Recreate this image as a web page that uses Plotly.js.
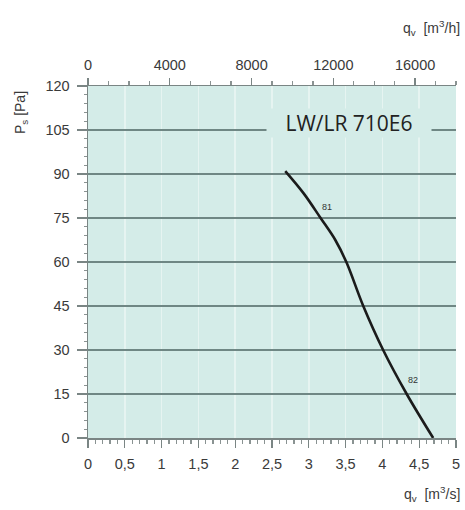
<!DOCTYPE html>
<html>
<head>
<meta charset="utf-8">
<script src="https://cdn.plot.ly/plotly-3.0.1.min.js"></script>
<style>html,body{margin:0;padding:0;background:#fff;}#chart{width:465px;height:510px;}</style>
</head>
<body>
<div id="chart"></div>
<script>
// Fan curve LW/LR 710E6 (flow m3/s vs static pressure Pa)
const flowM3s = [2.68, 2.93, 3.16, 3.36, 3.51, 3.74, 4.01, 4.33, 4.69];
const pressurePa = [91, 83.4, 75, 67.5, 60, 45, 30, 15, 0];
const pointLabels = ['81', '82'];
const pointLabelX = [3.25, 4.42];
const pointLabelY = [78.8, 19.8];
const bottomTicks = [0, 0.5, 1, 1.5, 2, 2.5, 3, 3.5, 4, 4.5, 5];
const bottomTickText = ['0', '0,5', '1', '1,5', '2', '2,5', '3', '3,5', '4', '4,5', '5'];
const topTicks = [0, 4000, 8000, 12000, 16000];
const topTickText = ['0', '4000', '8000', '12000', '16000'];
const leftTicks = [0, 15, 30, 45, 60, 75, 90, 105, 120];
const modelName = 'LW/LR 710E6';

const tickFont = {family: 'Liberation Sans, Arial, sans-serif', size: 14.5, color: '#3a3a3a'};
const titleFont = {family: 'Liberation Sans, Arial, sans-serif', size: 14, color: '#3a3a3a'};
const plotBg = '#d4ece8';

const traces = [
  {x: flowM3s, y: pressurePa, type: 'scatter', mode: 'lines',
   line: {color: '#1b1b1b', width: 2.6, shape: 'spline', smoothing: 1},
   xaxis: 'x', yaxis: 'y', hoverinfo: 'skip', showlegend: false},
  {x: [0, 18000], y: [null, null], type: 'scatter', mode: 'lines',
   xaxis: 'x2', yaxis: 'y', showlegend: false, hoverinfo: 'skip'}
];

const annotations = pointLabels.map((t, i) => ({
  x: pointLabelX[i], y: pointLabelY[i], xref: 'x', yref: 'y', text: t, showarrow: false,
  font: {family: 'Liberation Sans, Arial, sans-serif', size: 9, color: '#333'}
}));
annotations.push({
  x: 3.54, y: 107.4, xref: 'x', yref: 'y', text: modelName, showarrow: false,
  font: {family: 'Open Sans, sans-serif', size: 21, color: '#222'},
  bgcolor: plotBg, width: 162, height: 26
});
annotations.push({
  xref: 'paper', yref: 'paper', x: 1.015, y: 1.0, xanchor: 'right', yanchor: 'bottom', yshift: 46,
  text: 'q<sub>v</sub>  [m<sup>3</sup>/h]', showarrow: false, font: titleFont
});
annotations.push({
  xref: 'paper', yref: 'paper', x: 1.015, y: 0, xanchor: 'right', yanchor: 'top', yshift: -44,
  text: 'q<sub>v</sub>  [m<sup>3</sup>/s]', showarrow: false, font: titleFont
});
annotations.push({
  xref: 'paper', yref: 'paper', x: 0, y: 1, xanchor: 'center', yanchor: 'middle', xshift: -67, yshift: -27,
  text: 'P<sub>s</sub> [Pa]', showarrow: false, textangle: -90, font: titleFont
});

const layout = {
  width: 465, height: 510,
  margin: {l: 88, r: 9, t: 86, b: 72},
  paper_bgcolor: '#ffffff', plot_bgcolor: plotBg,
  showlegend: false,
  xaxis: {
    range: [0, 5], tickvals: bottomTicks, ticktext: bottomTickText,
    showgrid: true, gridcolor: '#e6f4f1', gridwidth: 1.5, zeroline: false,
    showline: true, linecolor: '#7a8584', linewidth: 1.5,
    ticks: 'outside', ticklen: 8, tickcolor: '#7a8584', tickwidth: 1.3,
    minor: {dtick: 0.1, ticks: 'outside', ticklen: 4, tickcolor: '#8a9392', showgrid: false},
    tickfont: tickFont, ticklabelstandoff: 4, fixedrange: true
  },
  xaxis2: {
    overlaying: 'x', side: 'top', range: [0, 18000], tickvals: topTicks, ticktext: topTickText,
    showgrid: false, zeroline: false, showline: true, linecolor: '#7a8584', linewidth: 1.5,
    ticks: 'outside', ticklen: 7, tickcolor: '#7a8584', tickwidth: 1.3,
    minor: {dtick: 1000, ticks: 'outside', ticklen: 4, tickcolor: '#8a9392', showgrid: false},
    tickfont: tickFont, ticklabelstandoff: 2, fixedrange: true
  },
  yaxis: {
    range: [0, 120], tickvals: leftTicks,
    showgrid: true, gridcolor: '#6f8784', gridwidth: 2, zeroline: false,
    showline: true, linecolor: '#7a8584', linewidth: 1.5,
    ticks: 'outside', ticklen: 10, tickcolor: '#7a8584', tickwidth: 1.3,
    minor: {dtick: 3, ticks: 'outside', ticklen: 3, tickcolor: '#8a9392', showgrid: false},
    tickfont: tickFont, ticklabelstandoff: 4, fixedrange: true
  },
  annotations: annotations
};

Plotly.newPlot('chart', traces, layout, {displayModeBar: false, staticPlot: true});
</script>
</body>
</html>
